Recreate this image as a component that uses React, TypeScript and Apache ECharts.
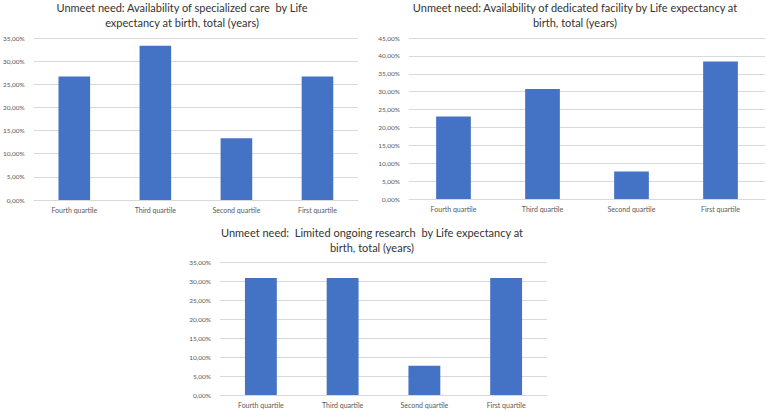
import React, { useEffect, useRef } from "react";
import * as echarts from "echarts";

const categories = ["Fourth quartile", "Third quartile", "Second quartile", "First quartile"];
const specializedCare = [26.67, 33.33, 13.33, 26.67];
const dedicatedFacility = [23.08, 30.77, 7.69, 38.46];
const ongoingResearch = [30.77, 30.77, 7.69, 30.77];
const titles = [
  "Unmeet need: Availability of specialized care  by Life\nexpectancy at birth, total (years)",
  "Unmeet need: Availability of dedicated facility by Life expectancy at\nbirth, total (years)",
  "Unmeet need:  Limited ongoing research  by Life expectancy at\nbirth, total (years)",
];
const yMax = [35, 45, 35];

const FONT = "Lato, 'Open Sans', sans-serif";
const fmt = (v: number) => v.toFixed(2).replace(".", ",") + "%";

export default function App() {
  const ref = useRef<HTMLDivElement>(null);
  useEffect(() => {
    if (!ref.current) return;
    const chart = echarts.init(ref.current, undefined, { renderer: "svg" });
    const grids = [
      { left: 32, top: 38, width: 326, height: 162 },
      { left: 409, top: 38, width: 356, height: 161 },
      { left: 220, top: 262, width: 327, height: 133 },
    ];
    const titlePos = [
      { left: 182, top: 0 },
      { left: 575, top: 0 },
      { left: 372, top: 225 },
    ];
    const seriesData = [specializedCare, dedicatedFacility, ongoingResearch];
    chart.setOption({
      animation: false,
      backgroundColor: "#ffffff",
      title: titles.map((t, i) => ({
        text: t,
        left: titlePos[i].left,
        top: titlePos[i].top,
        textAlign: "center",
        padding: 0,
        textStyle: {
          fontFamily: FONT,
          fontSize: 11,
          fontWeight: "normal",
          color: "#333333",
          lineHeight: 15,
        },
      })),
      grid: grids,
      xAxis: grids.map((_, i) => ({
        type: "category",
        gridIndex: i,
        data: categories,
        axisTick: { show: false },
        axisLine: { lineStyle: { color: "#d9d9d9" } },
        axisLabel: { fontFamily: FONT, fontSize: 7, color: "#595959", margin: 6 },
      })),
      yAxis: grids.map((_, i) => ({
        type: "value",
        gridIndex: i,
        min: 0,
        max: yMax[i],
        interval: 5,
        axisLine: { show: false },
        axisTick: { show: false },
        splitLine: { lineStyle: { color: "#d9d9d9" } },
        axisLabel: {
          fontFamily: FONT,
          fontSize: 6.5,
          color: "#595959",
          margin: 9,
          formatter: fmt,
        },
      })),
      series: seriesData.map((d, i) => ({
        type: "bar",
        xAxisIndex: i,
        yAxisIndex: i,
        data: d,
        barWidth: "39%",
        itemStyle: { color: "#4472C4" },
      })),
    });
    return () => chart.dispose();
  }, []);
  return (
    <div
      ref={ref}
      style={{ position: "fixed", left: 0, top: 0, width: 767, height: 411 }}
    />
  );
}
